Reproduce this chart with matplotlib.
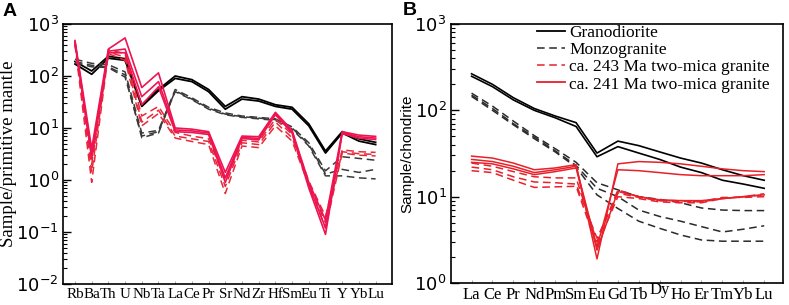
import numpy as np
import matplotlib
matplotlib.use("Agg")
import matplotlib.pyplot as plt
from matplotlib.ticker import LogLocator, LogFormatterMathtext, NullFormatter
from matplotlib.lines import Line2D

plt.rcParams["mathtext.fontset"] = "stix"

# ---- panel A : primitive-mantle normalised spider diagram ----
elems_a = ["Rb", "Ba", "Th", "U", "Nb", "Ta", "La", "Ce", "Pr", "Sr",
           "Nd", "Zr", "Hf", "Sm", "Eu", "Ti", "Y", "Yb", "Lu"]

grano_a = [
    [190, 125, 240, 215, 28, 55, 100, 85, 55, 26, 40, 36, 28, 25, 12, 3.6, 8.5, 6.2, 5.3],
    [170, 108, 220, 200, 26, 52, 90, 78, 50, 23, 36, 33, 26, 23, 11, 3.3, 8.0, 5.6, 4.8],
]
monzo_a = [
    [210, 175, 165, 120, 8.0, 9.0, 55, 38, 25, 19.5, 17, 16, 15, 10.5, 5.2, 1.5, 2.8, 2.6, 2.4],
    [190, 160, 150, 105, 6.5, 8.0, 52, 36, 24, 18.5, 16.5, 15.5, 14.5, 10, 4.8, 1.3, 1.6, 1.4, 1.6],
    [180, 150, 145, 95, 7.0, 8.5, 50, 35, 23, 18, 16, 15, 14, 9.5, 4.5, 1.2, 1.2, 1.1, 1.05],
]
mica241_a = [
    [480, 4.0, 330, 540, 60, 115, 10, 9.5, 8.5, 1.4, 7.0, 6.8, 20, 9.0, 0.9, 0.17, 8.5, 7.3, 6.9],
    [460, 3.0, 300, 330, 40, 78, 9.2, 8.8, 8.0, 1.1, 6.6, 6.3, 19, 8.5, 0.8, 0.12, 8.2, 6.8, 6.4],
    [440, 2.6, 280, 280, 28, 62, 8.5, 8.2, 7.5, 0.9, 6.3, 5.9, 18, 8.0, 0.7, 0.09, 7.8, 6.4, 6.0],
]
mica243_a = [
    [430, 2.0, 320, 270, 17, 26, 8.2, 7.0, 6.2, 1.0, 5.8, 5.4, 15, 7.5, 0.95, 0.2, 3.8, 3.5, 3.4],
    [420, 1.4, 290, 230, 13, 22, 7.0, 6.2, 5.5, 0.75, 5.2, 4.8, 13, 6.5, 0.85, 0.15, 3.5, 3.2, 3.1],
    [400, 0.9, 270, 200, 11, 19, 6.4, 5.5, 4.8, 0.55, 4.5, 4.2, 11, 5.6, 0.8, 0.12, 3.3, 3.0, 2.9],
]

# ---- panel B : chondrite normalised REE ----
elems_b = ["La", "Ce", "Pr", "Nd", "Pm", "Sm", "Eu", "Gd", "Tb", "Dy",
           "Ho", "Er", "Tm", "Yb", "Lu"]

grano_b = [
    [265, 200, 140, 105, 86, 72, 32, 44, 39, 33, 28, 24.5, 20.5, 17.5, 15.5],
    [248, 188, 132, 100, 82, 65, 29, 38, 32, 27, 22, 19, 15.5, 14, 12.5],
]
monzo_b = [
    [158, 112, 75, 51, 36, 25, 14.5, 12, 10, 9.3, 8.5, 7.4, 7.0, 6.9, 6.9],
    [150, 105, 70, 49, 34, 23, 12.5, 10, 7.0, 5.9, 5.2, 4.5, 3.9, 4.2, 4.6],
    [145, 100, 68, 47, 33, 22, 10.5, 7.3, 5.2, 4.3, 3.6, 3.15, 3.05, 3.05, 3.05],
]
mica241_b = [
    [29.5, 28, 24.5, 20.5, 21.5, 23.5, 1.9, 24, 25.5, 25, 24, 22.5, 21, 20, 19.5],
    [27, 25.5, 22.5, 19, 20.5, 22.5, 2.6, 20.5, 20, 19, 18, 17.5, 17.5, 17.5, 18],
    [25, 24, 21, 18, 19.5, 21.5, 2.4, 11.5, 10, 9.2, 9.0, 9.0, 9.5, 10, 10.5],
]
mica243_b = [
    [24.5, 22.5, 19.5, 17, 16.5, 16.5, 3.0, 12, 10, 9.0, 9.0, 8.7, 9.5, 10, 10.5],
    [22, 20.5, 17, 14.8, 14.5, 14, 3.3, 11, 9.8, 9.0, 8.8, 8.8, 9.8, 9.8, 10],
    [20, 19, 15.5, 12.8, 13, 13.2, 2.7, 10, 9.5, 8.7, 8.5, 8.5, 9.5, 10, 10.8],
]

labels = ["Granodiorite", "Monzogranite",
          "ca. 243 Ma two-mica granite", "ca. 241 Ma two-mica granite"]

fig = plt.figure(figsize=(7.89, 3.05), dpi=100)
axA = fig.add_axes([0.0798, 0.0689, 0.4170, 0.8524])
axB = fig.add_axes([0.5712, 0.0721, 0.4212, 0.8492])


def style_axis(ax, xlim, ylim):
    ax.set_yscale("log")
    ax.set_ylim(*ylim)
    ax.set_xlim(*xlim)
    ax.yaxis.set_major_locator(LogLocator(base=10, numticks=10))
    ax.yaxis.set_minor_locator(LogLocator(base=10, subs=np.arange(2, 10), numticks=10))
    ax.yaxis.set_major_formatter(LogFormatterMathtext())
    ax.yaxis.set_minor_formatter(NullFormatter())
    ax.tick_params(axis="y", which="major", direction="in", length=6, width=1.0,
                   labelsize=13, pad=3)
    ax.tick_params(axis="y", which="minor", direction="in", length=3, width=0.8)
    ax.tick_params(axis="x", direction="in", length=2.5, width=0.6, color="#999999",
                   pad=3)
    for s in ax.spines.values():
        s.set_linewidth(1.2)


# panel A
xa = np.arange(len(elems_a))
for row in grano_a:
    axA.plot(xa, row, color="black", lw=1.3)
for row in monzo_a:
    axA.plot(xa, row, color="#3a3a3a", lw=1.1, ls=(0, (5, 3)))
for row in mica243_a:
    axA.plot(xa, row, color="#e8293a", lw=1.1, ls=(0, (5, 3)))
for row in mica241_a:
    axA.plot(xa, row, color="#ee1452", lw=1.2)
style_axis(axA, (-0.72, 18.98), (1e-2, 1e3))
axA.set_xticks(xa)
axA.set_xticklabels(elems_a, family="Liberation Serif", fontsize=10.8)
axA.set_ylabel("Sample/primitive mantle", family="Liberation Serif",
               fontsize=13.5)
axA.yaxis.set_label_coords(-0.14, 0.5)

# panel B
xb = np.arange(len(elems_b))
for row in grano_b:
    axB.plot(xb, row, color="black", lw=1.2)
for row in monzo_b:
    axB.plot(xb, row, color="#2a2a2a", lw=1.1, ls=(0, (5, 3)))
for row in mica243_b:
    axB.plot(xb, row, color="#e8202a", lw=1.1, ls=(0, (5, 3)))
for row in mica241_b:
    axB.plot(xb, row, color="#e8202a", lw=1.1)
style_axis(axB, (-1.0, 14.9), (1, 1e3))
axB.set_xticks(xb)
axB.set_xticklabels(elems_b, family="Liberation Serif", fontsize=12)
for lab in axB.get_xticklabels():
    if lab.get_text() == "Dy":
        lab.set_y(0.02)
axB.set_ylabel("Sample/chondrite", family="Liberation Sans", fontsize=11,
               labelpad=0)

handles = [Line2D([], [], color="black", lw=1.3),
           Line2D([], [], color="#2a2a2a", lw=1.1, ls=(0, (5, 3))),
           Line2D([], [], color="#e8202a", lw=1.1, ls=(0, (5, 3))),
           Line2D([], [], color="#e8202a", lw=1.3)]
axB.legend(handles, labels, loc="upper left", bbox_to_anchor=(0.26, 0.995),
           frameon=False, borderaxespad=0, borderpad=0,
           prop={"family": "Liberation Serif", "size": 12.5},
           handlelength=1.6, handletextpad=0.25, labelspacing=0.05)

fig.text(0.003, 0.99, "A", fontsize=14, fontweight="bold",
         family="Liberation Sans", va="top")
fig.text(0.511, 0.995, "B", fontsize=14, fontweight="bold",
         family="Liberation Sans", va="top")

fig.savefig("out.png", dpi=100)
